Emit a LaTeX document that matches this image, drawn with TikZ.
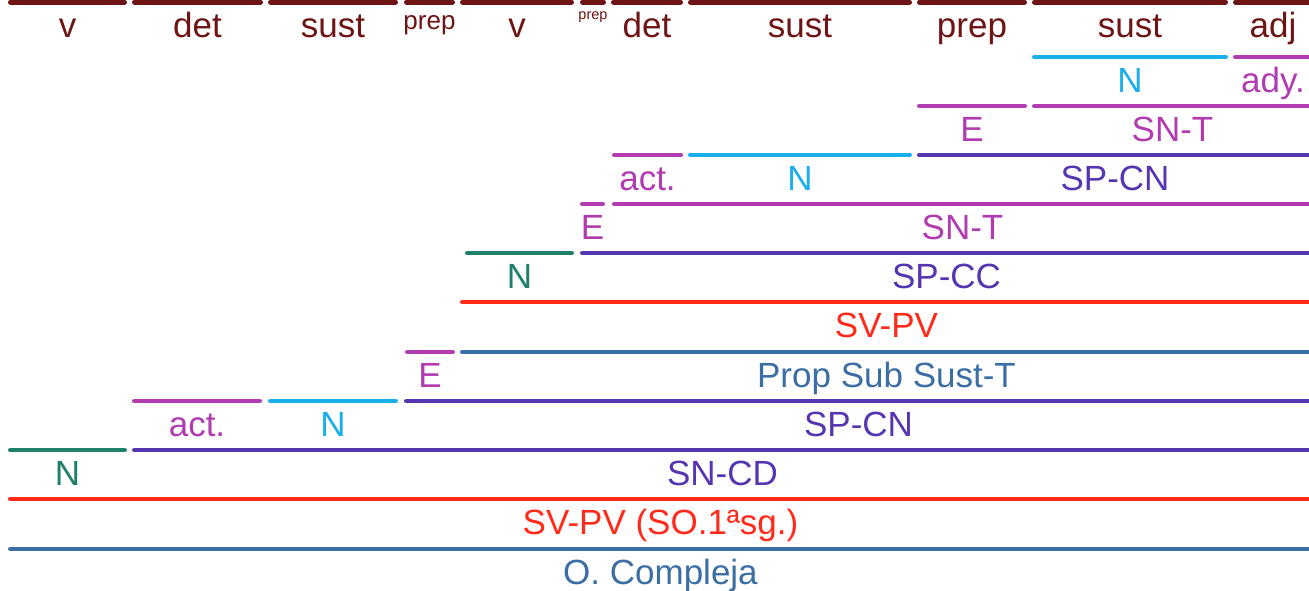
\documentclass[tikz,border=0pt]{standalone}
\usepackage{fontspec}
\setmainfont{Liberation Sans}
\usetikzlibrary{calc}
\definecolor{cbrown}{HTML}{6E1414}
\definecolor{cred}{HTML}{FF2A1A}
\definecolor{cpurple}{HTML}{5535B0}
\definecolor{cmag}{HTML}{B03CB0}
\definecolor{ccyan}{HTML}{1AAEEB}
\definecolor{cgreen}{HTML}{1E7F6B}
\definecolor{csteel}{HTML}{3B6EA5}
\newcommand\mysegment[7][35]{%
  \coordinate (#2a) at (#4,#6);
  \coordinate (#2b) at (#5,#6);
  \draw[seg,#3] (#2a) -- (#2b);
  \node[lbl,text=#3] (#2) at ($(#2a)!0.5!(#2b)+(0,35)$) {\fontsize{#1}{#1}\selectfont #7};}
\newcommand\topsegment[6][35]{%
  \coordinate (#2a) at (#3,2);
  \coordinate (#2b) at (#4,2);
  \draw[topbar] (#2a) -- (#2b);
  \node[lbl,text=cbrown] (#2) at ($(#2a)!0.5!(#2b)+(0,#5)$) {\fontsize{#1}{#1}\selectfont #6};}
\tikzset{
  seg/.style={line width=4.5pt,line cap=round,shorten <=2.25pt,shorten >=2.25pt},
  topbar/.style={line width=5pt,line cap=round,draw=cbrown,shorten <=2.5pt,shorten >=2.5pt},
  lbl/.style={anchor=base,inner sep=0pt,outer sep=0pt}
}
\begin{document}
\begin{tikzpicture}[x=1pt,y=-1pt]
\useasboundingbox (0,0) rectangle (1309,590);
% top row: word classes
\topsegment{t1}{8}{127}{35}{v}
\topsegment{t2}{132}{263}{35}{det}
\topsegment{t3}{268}{398}{35}{sust}
\topsegment[26]{t4}{404}{455}{27}{prep}
\topsegment{t5}{460}{574}{35}{v}
\topsegment[14.5]{t6}{580}{606}{17}{prep}
\topsegment{t7}{611}{683}{35}{det}
\topsegment{t8}{688}{912}{35}{sust}
\topsegment{t9}{917}{1027}{35}{prep}
\topsegment{t10}{1032}{1228}{35}{sust}
\topsegment{t11}{1233}{1313}{35}{adj}
% row 1
\mysegment{a1}{ccyan}{1032}{1228}{57}{N}
\mysegment{a2}{cmag}{1233}{1313}{57}{ady.}
% row 2
\mysegment{b1}{cmag}{917}{1027}{106}{E}
\mysegment{b2}{cmag}{1032}{1313}{106}{SN-T}
% row 3
\mysegment{c1}{cmag}{612}{683}{155}{act.}
\mysegment{c2}{ccyan}{688}{912}{155}{N}
\mysegment{c3}{cpurple}{917}{1313}{155}{SP-CN}
% row 4
\mysegment{d1}{cmag}{580}{605}{204}{E}
\mysegment{d2}{cmag}{612}{1313}{204}{SN-T}
% row 5
\mysegment{e1}{cgreen}{465}{574}{253}{N}
\mysegment{e2}{cpurple}{580}{1313}{253}{SP-CC}
% row 6
\mysegment{f1}{cred}{460}{1313}{302}{SV-PV}
% row 7
\mysegment{g1}{cmag}{405}{455}{352}{E}
\mysegment{g2}{csteel}{460}{1313}{352}{Prop Sub Sust-T}
% row 8
\mysegment{h1}{cmag}{132}{262}{401}{act.}
\mysegment{h2}{ccyan}{268}{398}{401}{N}
\mysegment{h3}{cpurple}{404}{1313}{401}{SP-CN}
% row 9
\mysegment{i1}{cgreen}{8}{127}{450}{N}
\mysegment{i2}{cpurple}{132}{1313}{450}{SN-CD}
% row 10
\mysegment{j1}{cred}{8}{1313}{499}{SV-PV (SO.1ªsg.)}
% row 11
\mysegment{k1}{csteel}{8}{1313}{549}{O. Compleja}
\end{tikzpicture}
\end{document}
